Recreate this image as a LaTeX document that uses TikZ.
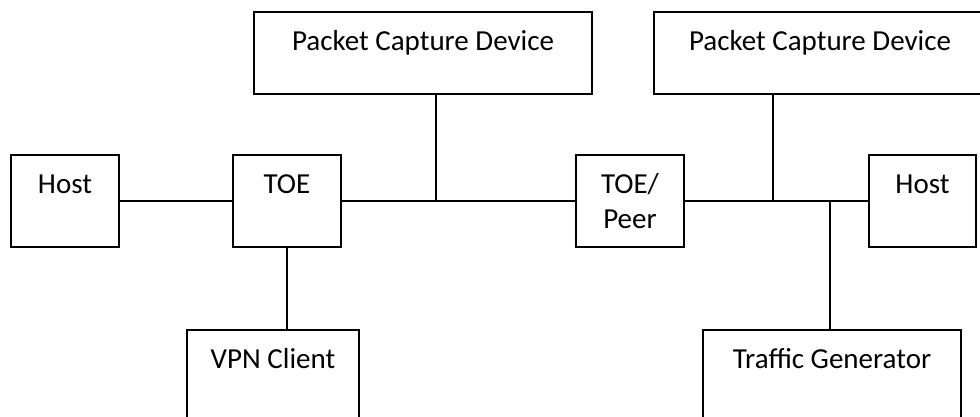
\documentclass[tikz,border=0pt]{standalone}
\usepackage{fontspec}
\setmainfont{Carlito}
\begin{document}
\begin{tikzpicture}[x=1pt,y=-1pt,
  box/.style={draw, line width=1.2pt, rectangle, inner sep=0pt, minimum height=92pt},
  lbl/.style={anchor=base, inner sep=0pt, label distance=0pt, yshift=-39pt, font=\fontsize{29}{34}\selectfont},
  lbltwo/.style={anchor=base, inner sep=0pt, label distance=0pt, yshift=-74pt, font=\fontsize{29}{34}\selectfont},
  wire/.style={line width=1.2pt}]
\useasboundingbox (0,0) rectangle (980,417);
\clip (0,0) rectangle (980,417);
% boxes
\node[box, minimum width=108pt, label={[lbl]north:Host}] (hostL) at (65,201) {};
\node[box, minimum width=108pt, label={[lbl]north:TOE}] (toe) at (287,201) {};
\node[box, minimum width=108pt, label={[lbl]north:TOE/}, label={[lbltwo]north:Peer}] (peer) at (630,201) {};
\node[box, minimum width=107pt, label={[lbl]north:Host}] (hostR) at (922.5,201) {};
\node[box, minimum width=338pt, minimum height=82pt, label={[lbl]north:Packet Capture Device}] (pcdA) at (423,53) {};
\node[box, minimum width=332pt, minimum height=82pt, label={[lbl]north:Packet Capture Device}] (pcdB) at (820,53) {};
\node[box, minimum width=172pt, minimum height=100pt, label={[lbl]north:VPN Client}] (vpn) at (273,380) {};
\node[box, minimum width=258pt, minimum height=100pt, label={[lbl]north:Traffic Generator}] (gen) at (832,380) {};
% junctions
\coordinate (jA) at (436,201);
\coordinate (jB) at (773,201);
\coordinate (jC) at (830,201);
% connectors
\draw[wire] (hostL.east) -- (toe.west);
\draw[wire] (toe.east) -- (peer.west);
\draw[wire] (peer.east) -- (hostR.west);
\draw[wire] (toe.south) -- (toe.south |- vpn.north);
\draw[wire] (pcdA.south -| jA) -- (jA);
\draw[wire] (pcdB.south -| jB) -- (jB);
\draw[wire] (gen.north -| jC) -- (jC);
\end{tikzpicture}
\end{document}
